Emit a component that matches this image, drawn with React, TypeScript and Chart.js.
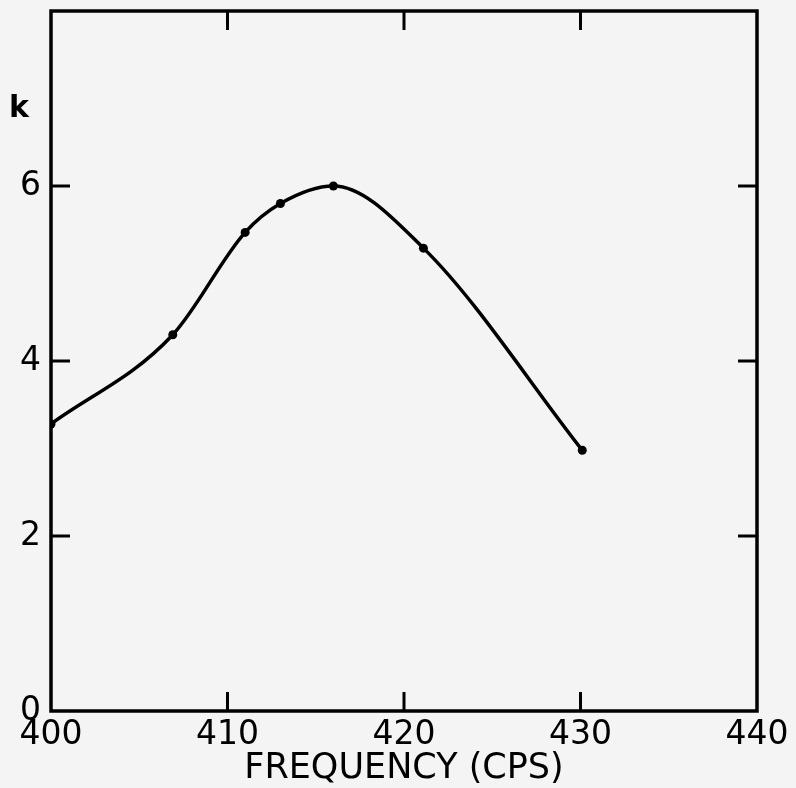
import React, { useEffect, useRef } from 'react';
import { Chart, registerables } from 'chart.js';

Chart.register(...registerables);

// Data
const frequencies = [400, 406.9, 411.0, 413.0, 416.0, 421.1, 430.1];
const kValues = [3.28, 4.3, 5.47, 5.8, 6.0, 5.29, 2.98];

const xMin = 400;
const xMax = 440;
const xStep = 10;
const yMin = 0;
const yMax = 8;
const yStep = 2;
const xTitle = 'FREQUENCY (CPS)';
const yLabel = 'k';
const yLabelValue = 6.88;

const FONT = "'DejaVu Sans', sans-serif";

const frameTicksPlugin = {
  id: 'frameTicks',
  afterDraw(chart: any) {
    const { ctx, chartArea } = chart;
    const xs = chart.scales.x;
    const ys = chart.scales.y;
    const len = 19;
    ctx.save();
    ctx.strokeStyle = '#000';
    ctx.lineWidth = 3.5;
    ctx.lineCap = 'butt';
    ctx.strokeRect(chartArea.left, chartArea.top, chartArea.right - chartArea.left, chartArea.bottom - chartArea.top);
    ctx.lineWidth = 3;
    ctx.beginPath();
    xs.ticks.forEach((t: any) => {
      if (t.value <= xs.min || t.value >= xs.max) return;
      const px = xs.getPixelForValue(t.value);
      ctx.moveTo(px, chartArea.bottom);
      ctx.lineTo(px, chartArea.bottom - len);
      ctx.moveTo(px, chartArea.top);
      ctx.lineTo(px, chartArea.top + len);
    });
    ys.ticks.forEach((t: any) => {
      if (t.value <= ys.min || t.value >= ys.max) return;
      const py = ys.getPixelForValue(t.value);
      ctx.moveTo(chartArea.left, py);
      ctx.lineTo(chartArea.left + len, py);
      ctx.moveTo(chartArea.right, py);
      ctx.lineTo(chartArea.right - len, py);
    });
    ctx.stroke();
    // axis label "k"
    ctx.fillStyle = '#000';
    ctx.font = `bold 30px ${FONT}`;
    ctx.textAlign = 'center';
    ctx.textBaseline = 'middle';
    ctx.fillText(yLabel, ys.left + 19, ys.getPixelForValue(yLabelValue));
    ctx.restore();
  },
};

export default function App() {
  const ref = useRef<HTMLCanvasElement | null>(null);

  useEffect(() => {
    if (!ref.current) return;
    const chart = new Chart(ref.current, {
      type: 'line',
      data: {
        datasets: [
          {
            data: frequencies.map((f, i) => ({ x: f, y: kValues[i] })),
            borderColor: '#000',
            backgroundColor: '#000',
            borderWidth: 3.5,
            pointRadius: 4.5,
            pointBackgroundColor: '#000',
            pointBorderColor: '#000',
            pointBorderWidth: 0,
            cubicInterpolationMode: 'monotone',
            fill: false,
          },
        ],
      },
      options: {
        animation: false,
        responsive: false,
        layout: { padding: { top: 11, right: 39, left: 0, bottom: 0 } },
        plugins: {
          legend: { display: false },
          tooltip: { enabled: false },
        },
        scales: {
          x: {
            type: 'linear',
            min: xMin,
            max: xMax,
            ticks: {
              stepSize: xStep,
              color: '#000',
              font: { family: FONT, size: 33 },
              padding: 5,
              maxRotation: 0,
            },
            grid: { display: false, drawTicks: false },
            border: { display: false },
            title: {
              display: true,
              text: xTitle,
              color: '#000',
              font: { family: FONT, size: 35, lineHeight: 1 },
              padding: { top: 0, bottom: 2 },
            },
            afterFit(scale: any) {
              scale.height = 77;
              scale.paddingLeft = 0;
              scale.paddingRight = 0;
            },
          },
          y: {
            type: 'linear',
            min: yMin,
            max: yMax,
            ticks: {
              stepSize: yStep,
              color: '#000',
              font: { family: FONT, size: 33 },
              padding: 10,
              callback: (v: any) => (v >= yMax ? '' : String(v)),
            },
            grid: { display: false, drawTicks: false },
            border: { display: false },
            afterFit(scale: any) {
              scale.width = 51;
              scale.paddingTop = 0;
              scale.paddingBottom = 0;
            },
          },
        },
      },
      plugins: [frameTicksPlugin],
    } as any);
    return () => chart.destroy();
  }, []);

  return (
    <div style={{ position: 'fixed', left: 0, top: 0, width: 796, height: 788, background: '#f4f4f4' }}>
      <canvas ref={ref} width={796} height={788} style={{ display: 'block' }} />
    </div>
  );
}
